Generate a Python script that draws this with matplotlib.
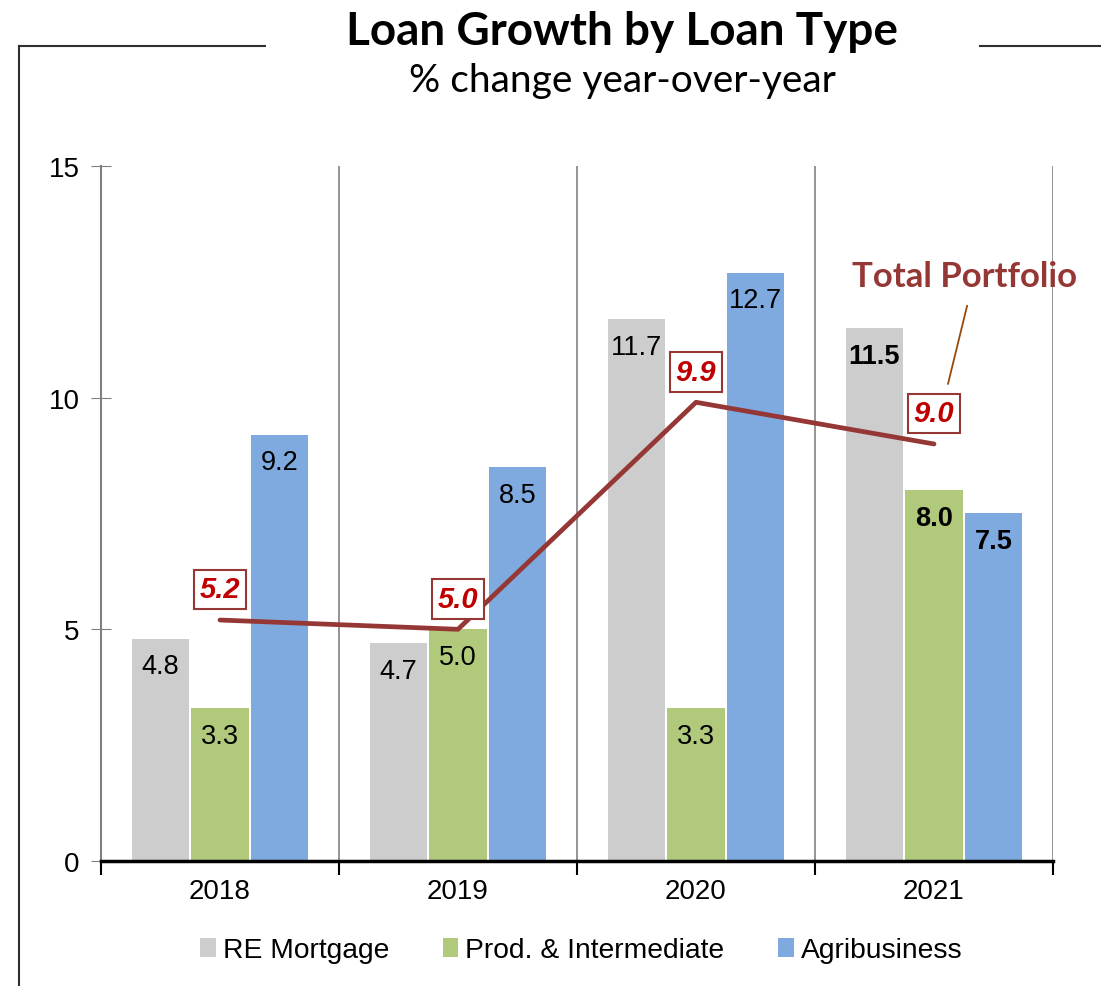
import numpy as np
import matplotlib
matplotlib.use("Agg")
import matplotlib.pyplot as plt
from matplotlib.lines import Line2D

years = ["2018", "2019", "2020", "2021"]
re_mortgage = [4.8, 4.7, 11.7, 11.5]
prod_inter = [3.3, 5.0, 3.3, 8.0]
agribusiness = [9.2, 8.5, 12.7, 7.5]
total_portfolio = [5.2, 5.0, 9.9, 9.0]
series_names = ["RE Mortgage", "Prod. & Intermediate", "Agribusiness"]
bold_year = "2021"

plt.rcParams["font.family"] = ["Liberation Sans", "DejaVu Sans"]

fig = plt.figure(figsize=(11.01, 9.87), dpi=100)
ax = fig.add_axes([0.0917, 0.1267, 0.8647, 0.7041])

x = np.arange(len(years))
w = 0.24
colors = ["#CDCDCD", "#B0C97A", "#7EAAE0"]
series = [re_mortgage, prod_inter, agribusiness]
offsets = [-0.25, 0.0, 0.25]

bars = []
for vals, off, col, name in zip(series, offsets, colors, series_names):
    b = ax.bar(x + off, vals, w, color=col, label=name, zorder=2)
    bars.append(b)
    for xi, v, yr in zip(x, vals, years):
        ax.annotate(f"{v:.1f}", (xi + off, v), xytext=(0, -20), textcoords="offset points",
                    ha="center", va="center", fontsize=19.5,
                    fontweight="bold" if yr == bold_year else "normal", zorder=3)

line_col = "#953735"
ax.plot(x, total_portfolio, color=line_col, lw=3.4, zorder=4, solid_capstyle="round")
for xi, v in zip(x, total_portfolio):
    ax.annotate(f"{v:.1f}", (xi, v), xytext=(0, 22), textcoords="offset points",
                ha="center", va="center", fontsize=21, fontweight="bold", style="italic",
                color="#C00000", zorder=5,
                bbox=dict(boxstyle="square,pad=0.2", fc="white", ec=line_col, lw=1.5))

# Total Portfolio callout
ax.text(3.6, 12.62, "Total Portfolio", fontsize=25, fontweight="bold", color=line_col,
        ha="right", va="center", family=["Lato", "DejaVu Sans"])
ax.plot([3.139, 3.059], [11.98, 10.3], color="#984807", lw=1.3, zorder=5, clip_on=False)

ax.set_xlim(-0.5, 3.5)
ax.set_ylim(0, 15)
ax.set_yticks([0, 5, 10, 15])
ax.set_xticks(x)
ax.set_xticklabels(years)
ax.tick_params(axis="y", direction="inout", length=15, color="#808080", labelsize=20, pad=8)
ax.tick_params(axis="x", length=0, labelsize=20, pad=12)
ax.set_xticks(np.arange(-0.5, 4.0, 1.0), minor=True)
ax.tick_params(axis="x", which="minor", direction="out", length=10, width=1.5, color="black")
for b in np.arange(0.5, 4.0, 1.0):
    ax.axvline(b, color="#8C8C8C", lw=1.3, zorder=1)

for s in ["top", "right"]:
    ax.spines[s].set_visible(False)
ax.spines["left"].set_color("#808080")
ax.spines["left"].set_linewidth(1.5)
ax.spines["bottom"].set_color("black")
ax.spines["bottom"].set_linewidth(2.5)
ax.spines["bottom"].set_zorder(6)

fig.text(0.565, 0.968, "Loan Growth by Loan Type", ha="center", va="center", fontsize=33,
         fontweight="bold", family=["Lato", "DejaVu Sans"])
fig.text(0.565, 0.918, "% change year-over-year", ha="center", va="center", fontsize=28,
         family=["Lato", "DejaVu Sans"])

# frame lines
fig.add_artist(Line2D([0.0175, 0.0175], [0.0, 0.952], color="#303030", lw=1.5))
fig.add_artist(Line2D([0.0175, 0.241], [0.952, 0.952], color="#303030", lw=1.5))
fig.add_artist(Line2D([0.89, 1.0], [0.952, 0.952], color="#303030", lw=1.5))

fig.legend(handles=bars, labels=series_names, loc="center", bbox_to_anchor=(0.528, 0.036),
           ncol=3, frameon=False, fontsize=20.3, handlelength=0.55, handleheight=0.7,
           handletextpad=0.25, columnspacing=1.9)

fig.savefig("out.png", dpi=100)
